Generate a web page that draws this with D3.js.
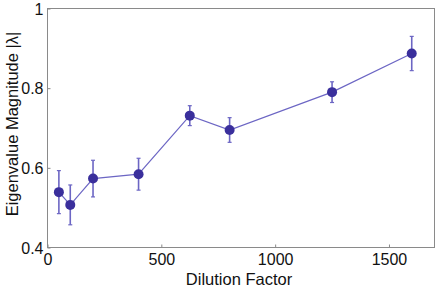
<!DOCTYPE html>
<html><head><meta charset="utf-8">
<script src="https://cdn.jsdelivr.net/npm/d3@7"></script>
<style>body{margin:0;background:#fff}svg{display:block}text{font-family:"Liberation Sans",Arial,sans-serif}</style>
</head><body>
<svg id="c" width="439" height="290"></svg>
<script>
const dilution = [50, 100, 200, 400, 625, 800, 1250, 1600];
const magnitude = [0.539, 0.507, 0.573, 0.584, 0.731, 0.695, 0.790, 0.887];
const errors = [0.054, 0.050, 0.046, 0.040, 0.025, 0.031, 0.026, 0.043];
const xTicks = [0, 500, 1000, 1500];
const yTicks = [0.4, 0.6, 0.8, 1];

const svg = d3.select("#c");
const m = {l: 47.5, r: 434.5, t: 8.5, b: 247.5};
const x = d3.scaleLinear().domain([0, 1700]).range([m.l, m.r]);
const y = d3.scaleLinear().domain([0.4, 1]).range([m.b, m.t]);
const axisCol = "#8a8a8a";

svg.append("rect").attr("x", m.l).attr("y", m.t).attr("width", m.r - m.l).attr("height", m.b - m.t)
  .attr("fill", "none").attr("stroke", axisCol).attr("stroke-width", 1);

const xa = svg.append("g").attr("transform", `translate(0,${m.b})`)
  .call(d3.axisBottom(x).tickValues(xTicks).tickFormat(d3.format("d")).tickSize(-3).tickPadding(6));
const ya = svg.append("g").attr("transform", `translate(${m.l},0)`)
  .call(d3.axisLeft(y).tickValues(yTicks).tickFormat(d => d === 1 ? "1" : d3.format(".1f")(d)).tickSize(-3).tickPadding(4));
[xa, ya].forEach(a => {
  a.select(".domain").remove();
  a.selectAll("line").attr("stroke", axisCol);
  a.selectAll("text").attr("fill", "#111").style("font-size", "16px");
});
xa.selectAll("text").attr("dy", "0.71em");
ya.selectAll("text").attr("dy", "0.36em");

const col = "#3a2f9c", lineCol = "#6c66c4";
svg.append("path").datum(dilution.map((d, i) => [d, magnitude[i]]))
  .attr("fill", "none").attr("stroke", lineCol).attr("stroke-width", 1.2)
  .attr("d", d3.line().x(d => x(d[0])).y(d => y(d[1])));

const g = svg.append("g");
dilution.forEach((d, i) => {
  const cx = x(d);
  g.append("line").attr("x1", cx).attr("x2", cx).attr("y1", y(magnitude[i] - errors[i])).attr("y2", y(magnitude[i] + errors[i]))
    .attr("stroke", lineCol).attr("stroke-width", 1.6);
  [magnitude[i] - errors[i], magnitude[i] + errors[i]].forEach(v => {
    g.append("line").attr("x1", cx - 2).attr("x2", cx + 2).attr("y1", y(v)).attr("y2", y(v))
      .attr("stroke", lineCol).attr("stroke-width", 1.2);
  });
  g.append("circle").attr("cx", cx).attr("cy", y(magnitude[i])).attr("r", 5).attr("fill", col);
});

svg.append("text").attr("x", 239).attr("y", 285).attr("text-anchor", "middle")
  .style("font-size", "16.5px").attr("fill", "#111").text("Dilution Factor");
svg.append("text").attr("transform", `translate(18,124) rotate(-90)`).attr("text-anchor", "middle")
  .style("font-size", "16.5px").attr("fill", "#111").text("Eigenvalue Magnitude |λ|");
</script>
</body></html>
